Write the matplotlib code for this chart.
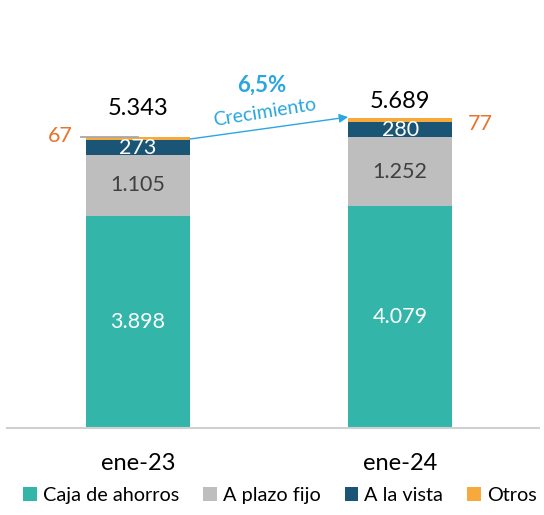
import matplotlib.pyplot as plt

plt.rcParams["font.family"] = ["Lato", "DejaVu Sans"]

# Data
periods = ["ene-23", "ene-24"]
series = ["Caja de ahorros", "A plazo fijo", "A la vista", "Otros"]
caja = [3898, 4079]
plazo = [1105, 1252]
vista = [273, 280]
otros = [67, 77]
totals = [5343, 5689]
growth_label = "6,5%"

colors = ["#33b6a9", "#bebebe", "#1b5576", "#f7a93b"]
label_colors = ["white", "#404040", "white"]

fig = plt.figure(figsize=(5.44, 5.15), dpi=100)
ax = fig.add_axes([7 / 544, 87 / 515, 532 / 544, 388 / 515])

x = list(range(len(periods)))
width = 0.397
stack = [caja, plazo, vista, otros]
bottom = [0, 0]
for vals, col, name in zip(stack, colors, series):
    ax.bar(x, vals, width, bottom=bottom, color=col, label=name)
    bottom = [b + v for b, v in zip(bottom, vals)]

# segment labels
bottom = [0, 0]
for vals, tc in zip(stack[:3], label_colors):
    for i, v in enumerate(vals):
        ax.text(x[i], bottom[i] + v / 2, f"{v:,}".replace(",", "."),
                ha="center", va="center", color=tc, fontsize=15.5)
    bottom = [b + v for b, v in zip(bottom, vals)]

# totals (first label sits a bit higher above its bar)
gaps = [400, 185]
for i, t in enumerate(totals):
    ax.text(x[i], t + gaps[i], f"{t:,}".replace(",", "."), ha="center",
            va="baseline", fontsize=17, color="black")

# Otros labels
ax.plot([x[0] - width / 2 - 0.02, x[0]], [totals[0], totals[0]],
        color="#a8a8a8", lw=1.3, zorder=3)
ax.text(x[0] - width / 2 - 0.05, totals[0] + 20, str(otros[0]), ha="right",
        va="center", color="#e8742c", fontsize=15.5)
ax.text(x[1] + width / 2 + 0.06, totals[1] - 110, str(otros[1]), ha="left",
        va="center", color="#e8742c", fontsize=15.5)

# growth arrow
ax.annotate("", xy=(x[1] - width / 2, totals[1] + 17),
            xytext=(x[0] + width / 2, totals[0] - 40),
            arrowprops=dict(arrowstyle="-|>", color="#2aa7df", lw=1,
                            mutation_scale=13, shrinkA=0, shrinkB=0))
ax.text(0.473, 6290, growth_label, ha="center", va="center",
        color="#2aa7df", fontsize=16, fontweight="bold")
ax.text(0.485, 5800, "Crecimiento", ha="center", va="center",
        color="#2aa7df", fontsize=14, rotation=9)

ax.set_xlim(-0.5, 1.53)
ax.set_ylim(0, 7120)
ax.set_xticks(x)
ax.set_xticklabels(periods, fontsize=17)
ax.tick_params(axis="x", length=0, pad=18)
ax.set_yticks([])
for s in ["top", "right", "left"]:
    ax.spines[s].set_visible(False)
ax.spines["bottom"].set_color("#d0d0d0")
ax.spines["bottom"].set_linewidth(1.5)

ax.legend(loc="center", bbox_to_anchor=(0.513, -0.175), ncol=4,
          frameon=False, fontsize=14.3, handlelength=0.7, handleheight=0.7,
          handletextpad=0.3, columnspacing=1.2)

fig.savefig("out.png", dpi=100)
